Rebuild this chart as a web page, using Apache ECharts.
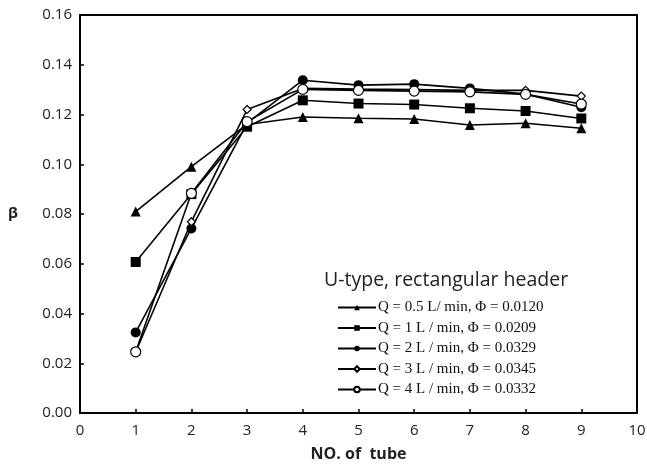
<!DOCTYPE html>
<html><head><meta charset="utf-8">
<script src="https://cdn.jsdelivr.net/npm/echarts@6/dist/echarts.min.js"></script>
<style>html,body{margin:0;padding:0;background:#fff}#c{width:647px;height:466px}</style>
</head><body><div id="c"></div>
<script>
const tubes = [1,2,3,4,5,6,7,8,9];
const q05 = [0.081,0.099,0.116,0.119,0.1185,0.1182,0.1158,0.1165,0.1145];
const q1  = [0.0607,0.088,0.1151,0.1257,0.1244,0.1240,0.1225,0.1214,0.1184];
const q2  = [0.0324,0.0742,0.1165,0.1338,0.1318,0.1322,0.1305,0.1282,0.1229];
const q3  = [0.0245,0.0769,0.1220,0.1305,0.1302,0.1300,0.1297,0.1297,0.1274];
const q4  = [0.0246,0.0883,0.1171,0.1301,0.1297,0.1294,0.1291,0.1281,0.1242];
const seriesNames = [
  'Q = 0.5 L/ min, \u03A6 = 0.0120',
  'Q = 1 L / min, \u03A6 = 0.0209',
  'Q = 2 L / min, \u03A6 = 0.0329',
  'Q = 3 L / min, \u03A6 = 0.0345',
  'Q = 4 L / min, \u03A6 = 0.0332'
];
const yTicks = [0,0.02,0.04,0.06,0.08,0.10,0.12,0.14,0.16];

const pts = arr => tubes.map((t,i)=>[t,arr[i]]);
const mk = (name, data, symbol, size, filled) => ({
  name, type:'line', data: pts(data), symbol, symbolSize: size,
  showAllSymbol:true,
  lineStyle:{color:'#000', width:1.6},
  itemStyle:{color: filled ? '#000' : '#fff', borderColor:'#000', borderWidth: filled?0:1.2},
  emphasis:{disabled:true}
});

const chart = echarts.init(document.getElementById('c'), null, {renderer:'canvas'});
chart.setOption({
  animation:false,
  backgroundColor:'#fff',
  grid:{left:80, right:10, top:15, bottom:53, show:true, borderColor:'#000', borderWidth:2,
    backgroundColor:'transparent', containLabel:false, outerBoundsMode:'none'},
  title:{text:'U-type, rectangular header', left:324, top:270, padding:0,
    textStyle:{fontFamily:'Open Sans', fontSize:19.5, fontWeight:'normal', color:'#222'}},
  legend:{orient:'vertical', left:332, top:295, itemWidth:38, itemHeight:7, itemGap:5.5,
    textStyle:{fontFamily:'Liberation Serif', fontSize:15, color:'#111', padding:[0,0,0,-3]},
    data: seriesNames},
  xAxis:{type:'value', min:0, max:10, interval:1,
    name:'NO. of  tube', nameLocation:'middle', nameGap:33,
    nameTextStyle:{fontFamily:'Open Sans', fontSize:16, fontWeight:'bold', color:'#222'},
    axisLine:{lineStyle:{color:'#000', width:2}},
    axisTick:{inside:true, length:4, lineStyle:{color:'#000', width:1.5}},
    axisLabel:{fontFamily:'Open Sans', fontSize:15, color:'#222', margin:10},
    splitLine:{show:false}},
  yAxis:{type:'value', min:0, max:0.16, interval:0.02,
    name:'\u03B2', nameLocation:'middle', nameGap:62, nameRotate:0,
    nameTextStyle:{fontFamily:'Open Sans', fontSize:15, fontWeight:'bold', color:'#222'},
    axisLine:{lineStyle:{color:'#000', width:2}},
    axisTick:{inside:true, length:4, lineStyle:{color:'#000', width:1.5}},
    axisLabel:{fontFamily:'Open Sans', fontSize:15, color:'#222', margin:8, formatter:v=>v.toFixed(2)},
    splitLine:{show:false}},
  series:[
    mk(seriesNames[0], q05, 'triangle', 10, true),
    mk(seriesNames[1], q1, 'rect', 10, true),
    mk(seriesNames[2], q2, 'circle', 10, true),
    mk(seriesNames[3], q3, 'diamond', 8, false),
    mk(seriesNames[4], q4, 'circle', 10, false)
  ]
});
</script></body></html>
